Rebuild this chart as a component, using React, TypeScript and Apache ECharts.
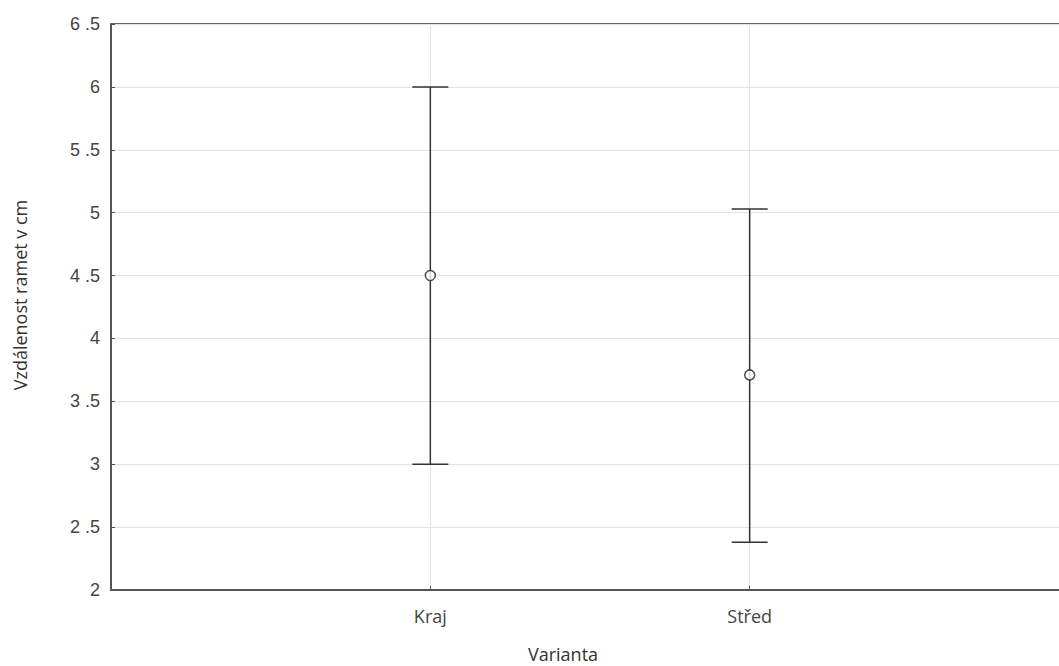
import React, { useEffect, useRef } from "react";
import * as echarts from "echarts";

const categories = ["", "Kraj", "Střed", ""];
const means = [4.5, 3.71];
const lowers = [3.0, 2.38];
const uppers = [6.0, 5.03];
const yTickLabels: Record<string, string> = {
  "2": "2", "2.5": "2 .5", "3": "3", "3.5": "3 .5", "4": "4", "4.5": "4 .5",
  "5": "5", "5.5": "5 .5", "6": "6", "6.5": "6 .5",
};

export default function App() {
  const ref = useRef<HTMLDivElement>(null);
  useEffect(() => {
    if (!ref.current) return;
    const chart = echarts.init(ref.current, undefined, { renderer: "svg" });
    const errData = means.map((m, i) => [i + 1, lowers[i], uppers[i]]);
    const meanData = means.map((m, i) => [i + 1, m]);
    chart.setOption({
      animation: false,
      backgroundColor: "#ffffff",
      grid: { left: 111, top: 24, width: 958, height: 566, show: false, containLabel: false, outerBoundsMode: "none" },
      xAxis: {
        type: "category",
        data: categories,
        boundaryGap: false,
        axisLine: { show: true, lineStyle: { color: "#555", width: 2 } },
        axisTick: { show: true, inside: true, length: 4, lineStyle: { color: "#555" } },
        axisLabel: { color: "#444", fontSize: 18, fontFamily: "Open Sans", margin: 17 },
        splitLine: {
          show: true,
          interval: (idx: number) => idx === 1 || idx === 2,
          lineStyle: { color: "#e2e2e2", width: 1 },
        },
      },
      yAxis: {
        type: "value",
        min: 2,
        max: 6.5,
        interval: 0.5,
        axisLine: { show: true, lineStyle: { color: "#555", width: 2 } },
        axisTick: { show: true, inside: true, length: 4, lineStyle: { color: "#555" } },
        axisLabel: {
          color: "#444",
          fontSize: 18,
          fontFamily: "Liberation Sans",
          margin: 11,
          formatter: (v: number) => yTickLabels[String(v)] ?? String(v),
        },
        splitLine: { show: true, lineStyle: { color: "#e2e2e2", width: 1 } },
      },
      graphic: [
        { type: "line", shape: { x1: 111, y1: 24, x2: 1070, y2: 24 }, style: { stroke: "#666", lineWidth: 2 } },
        {
          type: "text",
          x: 563,
          y: 654,
          style: { text: "Varianta", fill: "#333", fontSize: 18, fontFamily: "Open Sans", align: "center", verticalAlign: "middle" },
        },
        {
          type: "text",
          x: 20,
          y: 295,
          rotation: Math.PI / 2,
          style: { text: "Vzdálenost ramet v cm", fill: "#333", fontSize: 18, fontFamily: "Open Sans", align: "center", verticalAlign: "middle" },
        },
      ],
      series: [
        {
          type: "custom",
          data: errData,
          renderItem: (params: any, api: any) => {
            const x = api.value(0);
            const lo = api.coord([x, api.value(1)]);
            const hi = api.coord([x, api.value(2)]);
            const hw = 18;
            const style = { stroke: "#333", lineWidth: 1.5 };
            return {
              type: "group",
              children: [
                { type: "line", shape: { x1: lo[0], y1: lo[1], x2: hi[0], y2: hi[1] }, style },
                { type: "line", shape: { x1: hi[0] - hw, y1: hi[1], x2: hi[0] + hw, y2: hi[1] }, style },
                { type: "line", shape: { x1: lo[0] - hw, y1: lo[1], x2: lo[0] + hw, y2: lo[1] }, style },
              ],
            };
          },
          z: 2,
        },
        {
          type: "scatter",
          data: meanData,
          symbol: "circle",
          symbolSize: 10,
          itemStyle: { color: "#ffffff", borderColor: "#222", borderWidth: 1.5 },
          z: 3,
        },
      ],
    });
    return () => chart.dispose();
  }, []);
  return (
    <div
      ref={ref}
      style={{ position: "fixed", left: 0, top: 0, width: 1059, height: 666 }}
    />
  );
}
